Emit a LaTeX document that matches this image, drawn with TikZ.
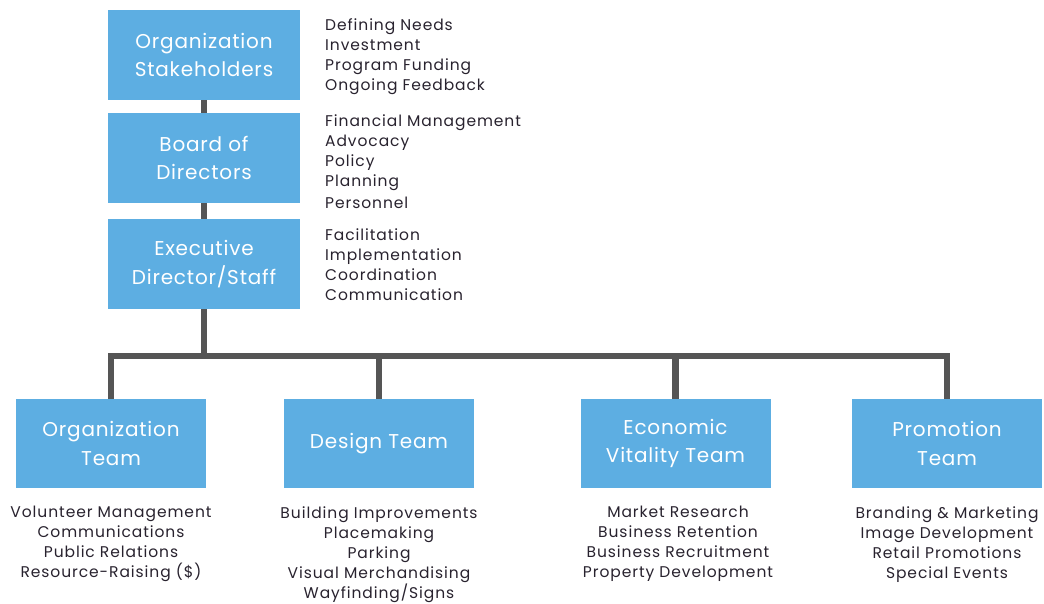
\documentclass[tikz,border=0pt]{standalone}
\usepackage{fontspec}
\setmainfont{Poppins}
\newfontfamily\boxfont[LetterSpace=4]{Poppins}
\newfontfamily\listfont[LetterSpace=6]{Poppins}
\definecolor{boxblue}{RGB}{93,174,226}
\definecolor{conngray}{RGB}{85,85,85}
\definecolor{txtgray}{RGB}{40,34,46}
\begin{document}
\begin{tikzpicture}[x=1pt,y=-1pt,
  box/.style={fill=boxblue,draw=none,minimum width=192pt,minimum height=90pt,inner sep=0pt,
    text=white,align=center,font=\boxfont\fontsize{20}{28.5}\selectfont},
  tbox/.style={box,minimum width=190pt,minimum height=89pt},
  conn/.style={draw=conngray,line width=6.8pt,line join=miter},
  side/.style={anchor=north west,align=left,inner sep=0pt,text=txtgray,font=\listfont\fontsize{15.5}{20}\selectfont},
  below/.style={anchor=north,align=center,inner sep=0pt,text=txtgray,font=\listfont\fontsize{15.5}{20}\selectfont}]
\useasboundingbox (0,0) rectangle (1044,603);
% top column
\node[box] (os) at (204,55) {Organization\\Stakeholders};
\node[box] (bd) at (204,158) {Board of\\Directors};
\node[box] (ed) at (204,264) {Executive\\Director/Staff};
% teams
\node[tbox] (ot) at (111,443.5) {Organization\\Team};
\node[tbox] (dt) at (379,443.5) {Design Team};
\node[tbox] (et) at (675.5,443.5) {Economic\\Vitality Team};
\node[tbox] (pt) at (947,443.5) {Promotion\\Team};
% connectors
\coordinate (bus) at (204,356);
\draw[conn] (os) -- (bd);
\draw[conn] (bd) -- (ed);
\draw[conn] (ed) -- (bus);
\draw[conn] (ot.north) -- (ot.north |- bus) -| (pt.north);
\draw[conn] (dt.north) -- (dt.north |- bus);
\draw[conn] (et.north) -- (et.north |- bus);
% redraw boxes on top of connectors
\node[box] at (os) {Organization\\Stakeholders};
\node[box] at (bd) {Board of\\Directors};
\node[box] at (ed) {Executive\\Director/Staff};
\node[tbox] at (ot) {Organization\\Team};
\node[tbox] at (dt) {Design Team};
\node[tbox] at (et) {Economic\\Vitality Team};
\node[tbox] at (pt) {Promotion\\Team};
% side lists
\node[side] (l1) at (325,18) {Defining Needs\\Investment\\Program Funding\\Ongoing Feedback};
\node[side] (l2) at (325,114) {Financial Management\\Advocacy\\Policy\\Planning\\[2pt]Personnel};
\node[side] (l3) at (325,228) {Facilitation\\Implementation\\Coordination\\Communication};
% team lists
\node[below] (t1) at (111,506) {Volunteer Management\\Communications\\Public Relations\\Resource-Raising (\$)};
\node[below] (t2) at (379,506) {Building Improvements\\Placemaking\\Parking\\Visual Merchandising\\Wayfinding/Signs};
\node[below] (t3) at (678,506) {Market Research\\Business Retention\\Business Recruitment\\Property Development};
\node[below] (t4) at (947,506) {Branding \& Marketing\\Image Development\\Retail Promotions\\Special Events};
\end{tikzpicture}
\end{document}
